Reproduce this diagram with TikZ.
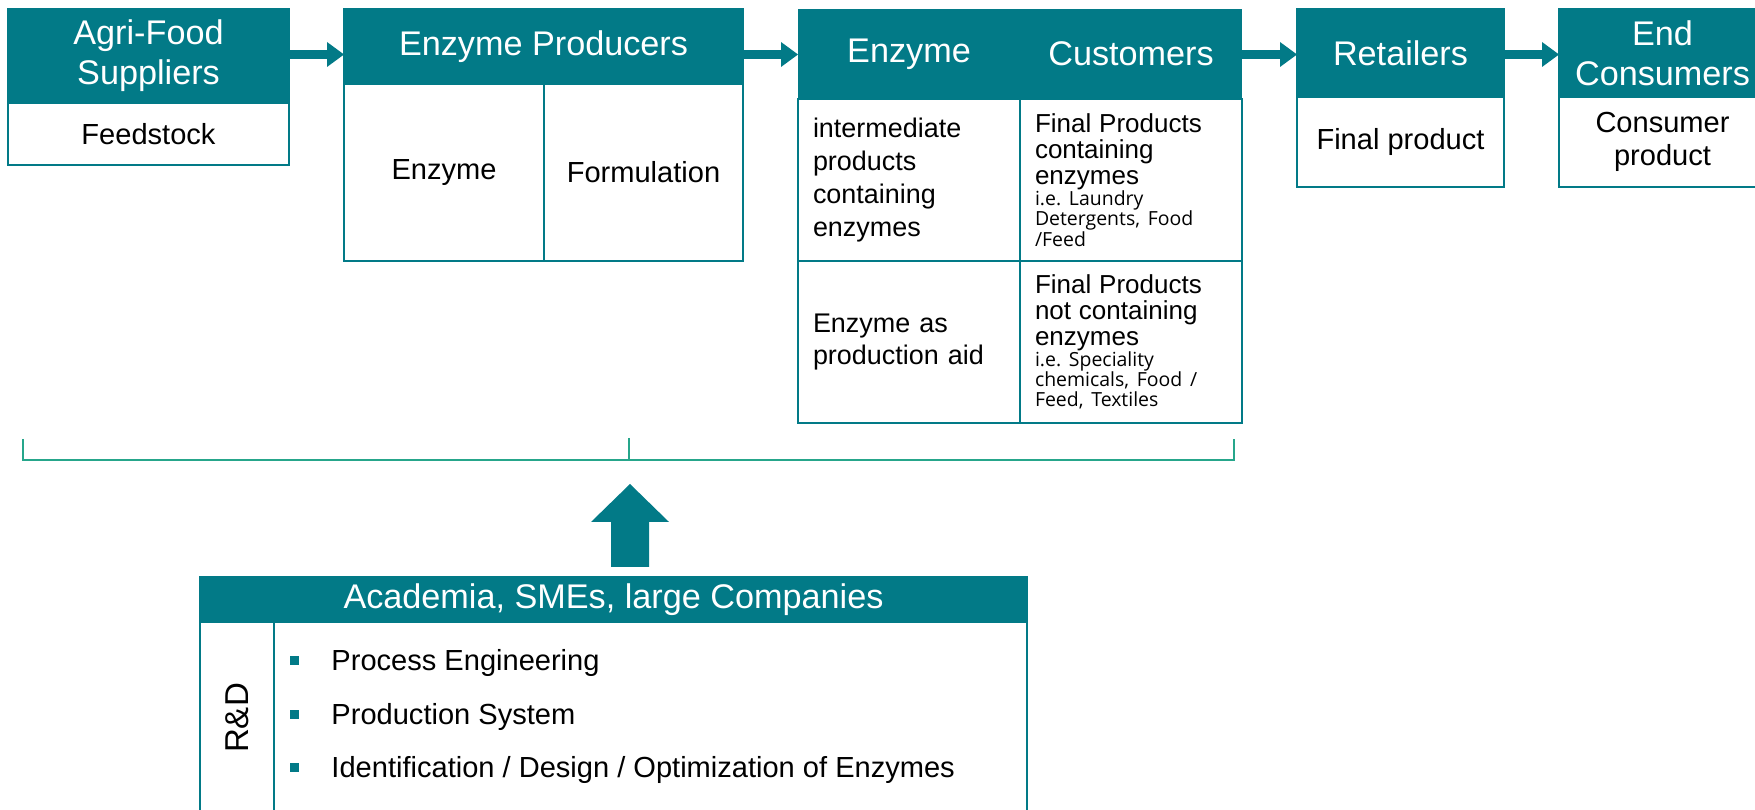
\documentclass[tikz,border=0pt]{standalone}
\usepackage{fontspec}
\setmainfont{Liberation Sans}
\newfontfamily\notefamily{Open Sans}
\usetikzlibrary{arrows.meta}

\definecolor{petrol}{RGB}{2,122,135}
\definecolor{brkgreen}{RGB}{38,166,139}
\newcommand{\pxu}{0.15mm}
\newcommand{\headfont}{\fontsize{14.6}{17.1}\selectfont}
\newcommand{\bodyfont}{\fontsize{12.4}{14.1}\selectfont}
\newcommand{\cellfont}{\fontsize{11.5}{14}\selectfont}
\newcommand{\finalfont}{\fontsize{11.1}{11.2}\selectfont}
\newcommand{\notefont}{\notefamily\fontsize{8.3}{8.7}\selectfont\frenchspacing}

\begin{document}
\begin{tikzpicture}[x=0.15mm, y=-0.15mm,
  box/.style 2 args={draw=petrol, line width=0.3mm, anchor=north west, inner sep=0pt, outer sep=0pt,
    minimum width=#1*\pxu, minimum height=#2*\pxu},
  headbox/.style={fill=petrol, text=white, align=center, font=\headfont},
  bodybox/.style={fill=white, align=center, font=\bodyfont},
  cellbox/.style={fill=white, align=left, text width=28.8mm, inner xsep=2.25mm},
  flow/.style={draw=petrol, line width=1.35mm, -{Triangle[length=2.55mm, width=3.75mm, line width=0pt]}},
  bracket/.style={draw=brkgreen, line width=0.3mm},
  bullet/.style={fill=petrol, inner sep=0pt, minimum size=1.35mm},
  item/.style={anchor=base west, font=\bodyfont, inner sep=0pt}]
\useasboundingbox (0,0) rectangle (1755,810);
%
% value chain
\node[box={281}{94}, headbox] (agrihead) at (8,9) {Agri-Food\\Suppliers};
\node[box={281}{62}, bodybox] (agribody) at (8,103) {Feedstock};
%
\node[box={399}{75}, headbox] (prodhead) at (344,9) {Enzyme Producers};
\node[box={200}{177}, bodybox] (prodenz) at (344,84) {Enzyme};
\node[box={199}{177}, bodybox] (prodform) at (544,84) {Formulation};
%
\node[box={222}{90}, headbox, draw=none] (custheadl) at (798,9) {Enzyme};
\node[box={222}{90}, headbox, draw=none] (custheadr) at (1020,9) {Customers};
\node[box={222}{162}, cellbox, font=\cellfont] (cell11) at (798,99) {intermediate\\products\\containing\\enzymes};
\node[box={222}{162}, cellbox] (cell12) at (1020,99) {{\finalfont Final Products\\containing\\enzymes\par}{\notefont i.e. Laundry\\Detergents, Food\\/Feed\par}};
\node[box={222}{162}, cellbox, font=\cellfont] (cell21) at (798,261) {Enzyme as\\production aid};
\node[box={222}{162}, cellbox] (cell22) at (1020,261) {{\finalfont Final Products\\not containing\\enzymes\par}{\notefont i.e. Speciality\\chemicals, Food /\\Feed, Textiles\par}};
%
\node[box={207}{88}, headbox] (retailhead) at (1297,9) {Retailers};
\node[box={207}{90}, bodybox] (retailbody) at (1297,97) {Final product};
%
\node[box={207}{88}, headbox] (endhead) at (1559,9) {End\\Consumers};
\node[box={207}{90}, bodybox] (endbody) at (1559,97) {Consumer\\product};
%
\coordinate (flowy) at (0,54.5);
\draw[flow] (agrihead.east |- flowy) -- (prodhead.west |- flowy);
\draw[flow] (prodhead.east |- flowy) -- (custheadl.west |- flowy);
\draw[flow] (custheadr.east |- flowy) -- (retailhead.west |- flowy);
\draw[flow] (retailhead.east |- flowy) -- (endhead.west |- flowy);
%
% bracket and R&D arrow
\draw[bracket] (23,439) -- (23,460) -- (1234,460) -- (1234,439);
\draw[bracket] (629,438) -- (629,460);
\fill[petrol] (611,567) -- (611,522) -- (591,522) -- (630,484) -- (669,522) -- (649,522) -- (649,567) -- cycle;
%
\node[box={827}{45}, headbox] (acahead) at (200,577) {Academia, SMEs, large Companies};
\node[box={74}{192}, bodybox] (rdcol) at (200,622) {};
\node[box={753}{192}, bodybox] (rdlist) at (274,622) {};
\node[rotate=90, font=\fontsize{14.1}{16}\selectfont] (rd) at (237,718) {R\&D};
%
\node[bullet] (dot1) at (294.5,661) {};
\node[bullet] (dot2) at (294.5,715) {};
\node[bullet] (dot3) at (294.5,768) {};
\node[item] (item1) at (331,671) {Process Engineering};
\node[item] (item2) at (331,725) {Production System};
\node[item] (item3) at (331,778) {Identification / Design / Optimization of Enzymes};
\end{tikzpicture}
\end{document}
